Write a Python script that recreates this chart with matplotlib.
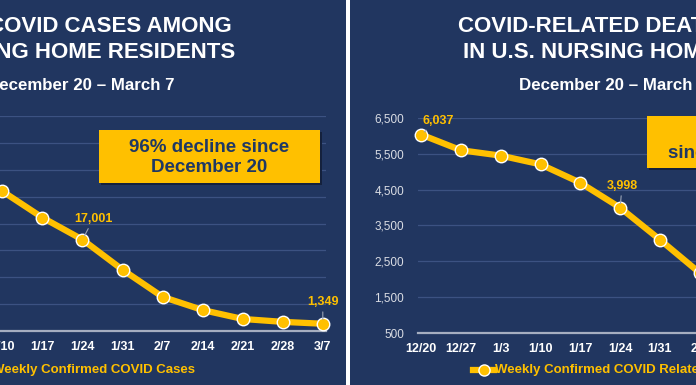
import matplotlib.pyplot as plt
from matplotlib.patches import Rectangle
from matplotlib.lines import Line2D

plt.rcParams['font.family'] = ['Liberation Sans', 'DejaVu Sans']

# Weekly data (week ending)
weeks = ['12/20', '12/27', '1/3', '1/10', '1/17', '1/24', '1/31',
         '2/7', '2/14', '2/21', '2/28', '3/7']
cases = [33700, 30900, 28600, 26000, 21100, 17001, 11400,
         6350, 3900, 2240, 1700, 1349]
deaths = [6037, 5600, 5450, 5206, 4693, 3998, 3105,
          2180, 1500, 1000, 750, 543]
death_ticks = [500, 1500, 2500, 3500, 4500, 5500, 6500]

NAVY = '#213660'
GOLD = '#FFC000'
GRID = '#3C5282'
TEXT_NAVY = '#1F3864'

W, H = 696, 385
fig = plt.figure(figsize=(W / 100, H / 100), dpi=100, facecolor='white')


def px(x, y):
    # pixel coords from top-left -> figure fraction
    return x / W, 1 - y / H


def add_rect(x0, y0, x1, y1, color, z=-10, **kw):
    r = Rectangle((x0 / W, 1 - y1 / H), (x1 - x0) / W, (y1 - y0) / H,
                  transform=fig.transFigure, facecolor=color, zorder=z, **kw)
    fig.patches.append(r)


# Two slide panels with white gap between
add_rect(-10, -10, 346, H + 10, NAVY)
add_rect(350, -10, W + 10, H + 10, NAVY)


def make_axes(left, right, top, bottom):
    ax = fig.add_axes([left / W, 1 - bottom / H, (right - left) / W, (bottom - top) / H])
    ax.set_facecolor('none')
    for s in ['top', 'right', 'left']:
        ax.spines[s].set_visible(False)
    ax.spines['bottom'].set_color('#A6AEC0')
    ax.spines['bottom'].set_linewidth(1.6)
    ax.tick_params(axis='both', length=0)
    ax.grid(axis='y', color=GRID, linewidth=0.9)
    ax.set_axisbelow(True)
    return ax


x = list(range(len(weeks)))

# ---- left panel: cases ----
axL = make_axes(-121, 326, 116, 331)
axL.plot(x, cases, color=GOLD, linewidth=4.5, marker='o', markersize=9,
         markerfacecolor=GOLD, markeredgecolor='white', markeredgewidth=1.0,
         solid_capstyle='round', clip_on=False, zorder=3)
axL.set_xlim(-0.08, len(weeks) - 1 + 0.08)
axL.set_ylim(0, 40000)
axL.set_yticks(range(0, 40001, 5000))
axL.set_yticklabels([])
axL.set_xticks(x)
axL.set_xticklabels(weeks, color='white', fontsize=9, fontweight='bold')
axL.tick_params(axis='x', pad=7)

# ---- right panel: deaths ----
axR = make_axes(418, 862, 118, 333)
axR.plot(x, deaths, color=GOLD, linewidth=4.5, marker='o', markersize=9,
         markerfacecolor=GOLD, markeredgecolor='white', markeredgewidth=1.0,
         solid_capstyle='round', clip_on=False, zorder=3)
axR.set_xlim(-0.08, len(weeks) - 1 + 0.08)
axR.set_ylim(500, 6500)
axR.set_yticks(death_ticks)
axR.set_yticklabels([f'{v:,}' for v in death_ticks], color='#DADDE4', fontsize=8.5)
axR.tick_params(axis='y', pad=10)
axR.set_xticks(x)
axR.set_xticklabels(weeks, color='white', fontsize=9, fontweight='bold')
axR.tick_params(axis='x', pad=7)


# data labels with small leader lines
def label(ax, i, vals, dx, dy):
    ax.annotate(f'{vals[i]:,}', xy=(i, vals[i]), xytext=(dx, dy),
                textcoords='offset pixels', ha='center', va='bottom',
                color=GOLD, fontsize=9, fontweight='bold', zorder=5,
                arrowprops=dict(arrowstyle='-', color='#9AA3B5', lw=0.8,
                                shrinkA=1, shrinkB=3))


label(axL, 5, cases, 11, 15)
label(axL, 11, cases, 0, 16)
label(axR, 0, deaths, 17, 8)
label(axR, 5, deaths, 2, 16)

# titles
for cx, sx, lines in [(81, 81, ['NEW COVID CASES AMONG', 'NURSING HOME RESIDENTS']),
                      (597, 613, ['COVID-RELATED DEATHS', 'IN U.S. NURSING HOMES'])]:
    fig.text(*px(cx, 27), lines[0], ha='center', va='center', color='white',
             fontsize=16, fontweight='bold')
    fig.text(*px(cx, 52), lines[1], ha='center', va='center', color='white',
             fontsize=16, fontweight='bold')
    fig.text(*px(sx, 86), 'December 20 \u2013 March 7', ha='center', va='center',
             color='white', fontsize=12.2, fontweight='bold')

# callout boxes
add_rect(101, 132, 322, 185, '#14213D', z=4)
add_rect(99, 130, 320, 183, GOLD, z=5)
fig.text(*px(209.5, 147), '96% decline since', ha='center', va='center',
         color=TEXT_NAVY, fontsize=13.5, fontweight='bold', zorder=6)
fig.text(*px(209.5, 168), 'December 20', ha='center', va='center',
         color=TEXT_NAVY, fontsize=13.5, fontweight='bold', zorder=6)

add_rect(649, 118, 860, 170, '#14213D', z=4)
add_rect(647, 116, 858, 168, GOLD, z=5)
fig.text(*px(753, 132), '91% decline', ha='center', va='center',
         color=TEXT_NAVY, fontsize=13.5, fontweight='bold', zorder=6)
fig.text(*px(753, 153), 'since December 20', ha='center', va='center',
         color=TEXT_NAVY, fontsize=13.5, fontweight='bold', zorder=6)

# legends
fig.text(*px(195, 370), 'Weekly Confirmed COVID Cases', ha='right', va='center',
         color=GOLD, fontsize=9.5, fontweight='bold')
fig.lines.append(Line2D([473 / W, 494 / W], [1 - 370 / H] * 2, transform=fig.transFigure,
                        color=GOLD, linewidth=4.5))
fig.lines.append(Line2D([483.5 / W], [1 - 370 / H], transform=fig.transFigure,
                        marker='o', markersize=8, markerfacecolor=GOLD,
                        markeredgecolor='white', markeredgewidth=1.0))
fig.text(*px(495, 370), 'Weekly Confirmed COVID Related Deaths', ha='left', va='center',
         color=GOLD, fontsize=9.5, fontweight='bold')

fig.savefig('out.png', dpi=100)
